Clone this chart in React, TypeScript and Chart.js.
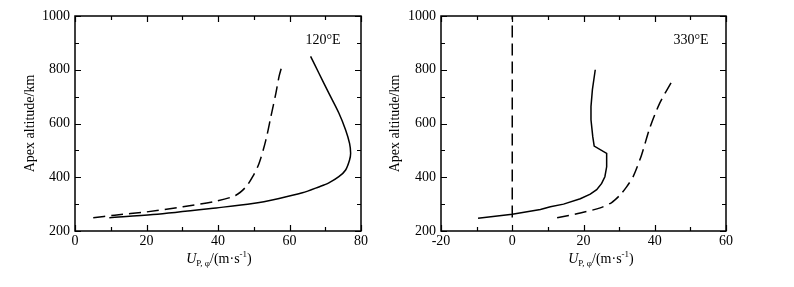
import React, { useEffect, useRef } from "react";
import { Chart, registerables } from "chart.js";
Chart.register(...registerables);

// ---- data (U in m/s, apex altitude in km) ----
const leftSolidU = [9.6, 21.8, 39.5, 49.7, 57.1, 63.6, 68.2, 71.0, 73.8, 75.7, 76.8, 77.1, 76.8, 75.7, 73.8, 71.0, 68.2, 65.9];
const leftSolidAlt = [249, 261, 286, 302, 321, 342, 364, 379, 402, 427, 464, 489, 526, 576, 639, 713, 788, 850];
const leftDashU = [5.1, 11.1, 20.0, 30.2, 39.5, 45.0, 47.8, 49.7, 51.5, 53.4, 54.8, 56.2, 57.1, 58.0];
const leftDashAlt = [249, 259, 271, 290, 311, 333, 364, 402, 452, 539, 626, 713, 776, 819];

const rightSolidU = [-9.6, 0, 7.9, 10.7, 14.4, 19.1, 21.9, 23.7, 25.1, 26.0, 26.5, 26.5, 23.0, 22.6, 22.1, 22.1, 22.5, 23.3];
const rightSolidAlt = [247, 262, 280, 290, 300, 320, 337, 354, 377, 402, 439, 489, 516, 551, 614, 663, 726, 800];
const rightDashU = [12.6, 19.1, 24.7, 27.9, 30.2, 32.1, 34.0, 36.3, 38.6, 41.4, 44.9];
const rightDashAlt = [249, 267, 286, 306, 333, 364, 404, 483, 583, 676, 759];
const zeroLineU = [0, 0];
const zeroLineAlt = [250, 1000];

const leftXRange = [0, 80];
const rightXRange = [-20, 60];
const altRange = [200, 1000];
const panelLabels = ["120°E", "330°E"];
const yTitle = "Apex altitude/km";

const FONT = "'Liberation Serif', 'Times New Roman', serif";

const pts = (xs: number[], ys: number[]) => xs.map((x, i) => ({ x, y: ys[i] }));

const framePlugin = {
  id: "frame",
  afterDraw(chart: any, _args: any, opts: any) {
    const { ctx, chartArea: a, scales } = chart;
    const x = scales.x, y = scales.y;
    ctx.save();
    ctx.strokeStyle = "#000";
    ctx.lineWidth = 1.5;
    ctx.strokeRect(a.left, a.top, a.right - a.left, a.bottom - a.top);
    ctx.lineWidth = 1.2;
    ctx.beginPath();
    for (let v = x.min; v <= x.max; v += 10) {
      const px = Math.round(x.getPixelForValue(v)) + 0.5;
      const len = Math.abs(v % 20) === 0 ? 6 : 4;
      ctx.moveTo(px, a.bottom); ctx.lineTo(px, a.bottom - len);
      ctx.moveTo(px, a.top); ctx.lineTo(px, a.top + len);
    }
    for (let v = y.min; v <= y.max; v += 100) {
      const py = Math.round(y.getPixelForValue(v)) + 0.5;
      const len = v % 200 === 0 ? 6 : 4;
      ctx.moveTo(a.left, py); ctx.lineTo(a.left + len, py);
      ctx.moveTo(a.right, py); ctx.lineTo(a.right - len, py);
    }
    ctx.stroke();

    // panel label
    ctx.fillStyle = "#000";
    ctx.font = `14px ${FONT}`;
    ctx.textAlign = "center";
    ctx.textBaseline = "middle";
    ctx.fillText(opts.label, opts.labelX, 40);

    // x axis title: U_{P, φ}/(m·s^{-1})
    const parts = [
      { t: "U", f: `italic 14px ${FONT}`, dy: 0 },
      { t: "P, φ", f: `9px ${FONT}`, dy: 3 },
      { t: "/(m·s", f: `14px ${FONT}`, dy: 0 },
      { t: "-1", f: `9px ${FONT}`, dy: -6 },
      { t: ")", f: `14px ${FONT}`, dy: 0 },
    ];
    let total = 0;
    const widths = parts.map((p) => { ctx.font = p.f; const w = ctx.measureText(p.t).width; total += w; return w; });
    let cx = opts.titleX - total / 2;
    ctx.textAlign = "left";
    ctx.textBaseline = "alphabetic";
    const base = 263;
    parts.forEach((p, i) => {
      ctx.font = p.f;
      ctx.fillText(p.t, cx, base + p.dy);
      cx += widths[i];
    });
    ctx.restore();
  },
};

function makeConfig(
  datasets: any[],
  xr: number[],
  yAxisWidth: number,
  rightPad: number,
  yTitlePad: number,
  label: string,
  labelX: number,
  titleX: number
): any {
  return {
    type: "scatter",
    data: { datasets },
    plugins: [framePlugin],
    options: {
      animation: false,
      responsive: false,
      devicePixelRatio: 1,
      layout: { padding: { left: 0, right: rightPad, top: 16, bottom: 0 } },
      plugins: {
        legend: { display: false },
        tooltip: { enabled: false },
        frame: { label, labelX, titleX },
      },
      scales: {
        x: {
          type: "linear",
          min: xr[0],
          max: xr[1],
          grid: { display: false, drawTicks: false },
          border: { display: false },
          ticks: { stepSize: 20, padding: 2, color: "#000", font: { family: FONT, size: 14 }, maxRotation: 0, callback: (v: any) => String(v) },
          afterFit: (s: any) => { s.height = 56; s.paddingLeft = 0; s.paddingRight = 0; },
        },
        y: {
          type: "linear",
          min: altRange[0],
          max: altRange[1],
          grid: { display: false, drawTicks: false },
          border: { display: false },
          ticks: { stepSize: 200, padding: 5, color: "#000", font: { family: FONT, size: 14 }, callback: (v: any) => String(v) },
          title: { display: true, text: yTitle, color: "#000", font: { family: FONT, size: 14 }, padding: { top: yTitlePad, bottom: 0 } },
          afterFit: (s: any) => { s.width = yAxisWidth; s.paddingTop = 0; s.paddingBottom = 0; },
        },
      },
    },
  };
}

const lineDs = (data: any[], dashed: boolean, tension: number) => ({
  data,
  showLine: true,
  borderColor: "#000",
  borderWidth: 1.5,
  borderDash: dashed ? [12, 6] : [],
  pointRadius: 0,
  tension,
  fill: false,
});

export default function App() {
  const ref1 = useRef<HTMLCanvasElement>(null);
  const ref2 = useRef<HTMLCanvasElement>(null);
  useEffect(() => {
    const c1 = new Chart(
      ref1.current!,
      makeConfig(
        [lineDs(pts(leftSolidU, leftSolidAlt), false, 0.3), lineDs(pts(leftDashU, leftDashAlt), true, 0.3)],
        leftXRange, 75, 14, 21.6, panelLabels[0], 323, 219
      )
    );
    const c2 = new Chart(
      ref2.current!,
      makeConfig(
        [
          lineDs(pts(rightSolidU, rightSolidAlt), false, 0),
          lineDs(pts(rightDashU, rightDashAlt), true, 0.25),
          lineDs(pts(zeroLineU, zeroLineAlt), true, 0),
        ],
        rightXRange, 66, 68, 11.6, panelLabels[1], 316, 226
      )
    );
    return () => { c1.destroy(); c2.destroy(); };
  }, []);
  return (
    <div style={{ position: "absolute", left: 0, top: 0, width: 794, height: 287, background: "#fff" }}>
      <canvas ref={ref1} width={375} height={287} style={{ position: "absolute", left: 0, top: 0, width: 375, height: 287 }} />
      <canvas ref={ref2} width={419} height={287} style={{ position: "absolute", left: 375, top: 0, width: 419, height: 287 }} />
    </div>
  );
}
